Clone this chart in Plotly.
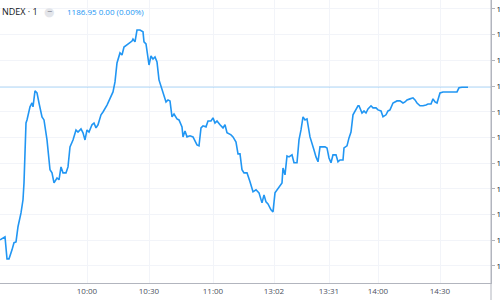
import plotly.graph_objects as go

# bar position (session bar index) and close price
bar = [0, 4, 5, 7, 9, 12, 14, 16, 18, 21, 23, 24, 26, 27, 30, 32, 33, 35, 37, 39,
       42, 44, 47, 50, 52, 54, 57, 59, 61, 63, 66, 68, 70, 73, 76, 78, 81, 83, 85, 87,
       89, 92, 94, 96, 98, 101, 103, 107, 110, 113, 115, 117, 120, 122, 124, 127, 129, 132, 133, 135,
       137, 140, 143, 144, 146, 149, 151, 153, 155, 157, 159, 162, 163, 166, 168, 170, 172, 174, 177, 179,
       182, 183, 185, 187, 190, 193, 197, 199, 201, 203, 206, 208, 211, 213, 215, 217, 220, 223, 225, 227,
       231, 233, 236, 238, 240, 242, 244, 247, 250, 253, 256, 259, 262, 264, 266, 268, 271, 273, 275, 278,
       282, 283, 285, 287, 289, 292, 294, 297, 299, 301, 303, 305, 307, 310, 312, 314, 316, 318, 320, 323,
       325, 327, 329, 331, 333, 336, 338, 340, 343, 344, 347, 349, 351, 353, 356, 358, 359, 362, 364, 366,
       368, 371, 373, 376, 378, 381, 383, 386, 388, 390, 393, 395, 397, 400, 403, 405, 407, 410, 413, 415,
       417, 420, 423, 426, 428, 431, 433, 435, 437, 440, 443, 457, 459, 462, 468]
price = [1181.01, 1181.09, 1181.13, 1180.27, 1180.27, 1180.62, 1180.90, 1180.93, 1181.52, 1182.06,
         1182.57, 1183.23, 1185.56, 1185.68, 1186.19, 1186.34, 1186.19, 1186.81, 1186.73, 1186.34,
         1185.80, 1185.68, 1184.90, 1183.74, 1183.62, 1183.23, 1183.42, 1183.35, 1183.85, 1183.62,
         1183.62, 1183.85, 1184.63, 1184.90, 1185.29, 1185.21, 1185.33, 1185.18, 1184.90, 1185.29,
         1185.21, 1185.49, 1185.56, 1185.37, 1185.49, 1185.88, 1185.99, 1186.26, 1186.54, 1186.77,
         1187.16, 1187.90, 1188.29, 1188.21, 1188.52, 1188.60, 1188.68, 1188.75, 1188.83, 1188.72,
         1189.18, 1189.18, 1189.11, 1188.72, 1188.64, 1187.82, 1188.17, 1188.05, 1188.13, 1187.94,
         1187.24, 1186.89, 1186.81, 1186.38, 1186.46, 1186.42, 1185.80, 1185.91, 1185.72, 1185.68,
         1185.41, 1185.02, 1185.25, 1185.02, 1185.06, 1185.02, 1184.71, 1184.67, 1185.37, 1185.45,
         1185.41, 1185.64, 1185.64, 1185.76, 1185.56, 1185.64, 1185.49, 1185.37, 1185.49, 1185.18,
         1185.10, 1185.02, 1184.82, 1184.36, 1184.36, 1183.74, 1183.62, 1183.62, 1183.27, 1182.88,
         1182.96, 1182.84, 1182.45, 1182.76, 1182.49, 1182.41, 1182.18, 1182.10, 1182.84, 1183.03,
         1183.23, 1183.81, 1183.54, 1184.28, 1184.24, 1184.32, 1184.01, 1184.01, 1184.90, 1185.29,
         1185.80, 1185.68, 1185.72, 1185.02, 1184.71, 1184.51, 1184.24, 1184.05, 1184.63, 1184.63,
         1184.63, 1184.59, 1184.20, 1184.01, 1184.32, 1184.32, 1184.05, 1184.12, 1184.12, 1184.59,
         1184.67, 1184.98, 1185.21, 1185.88, 1186.07, 1186.23, 1186.23, 1185.95, 1186.03, 1185.95,
         1186.11, 1186.23, 1186.15, 1186.15, 1186.07, 1186.03, 1185.80, 1185.88, 1186.03, 1186.07,
         1186.34, 1186.38, 1186.42, 1186.42, 1186.34, 1186.38, 1186.46, 1186.50, 1186.54, 1186.46,
         1186.34, 1186.23, 1186.23, 1186.26, 1186.30, 1186.30, 1186.50, 1186.38, 1186.34, 1186.73,
         1186.77, 1186.77, 1186.93, 1186.95, 1186.95]

tick_bars = [87, 149, 213, 274, 329, 378, 440]
tick_labels = ["10:00", "10:30", "11:00", "13:02", "13:31", "14:00", "14:30"]
price_ticks = [1180, 1181, 1182, 1183, 1184, 1185, 1186, 1187, 1188, 1189, 1190]

title_text = "NDEX · 1"
quote_text = "1186.95 0.00 (0.00%)"

LINE = "#2196f3"
GRID = "#f2f4f9"
AXIS = "#b2b5be"
FONT = "Open Sans"
HEAD_Y = 0.958

fig = go.Figure()
fig.add_trace(go.Scatter(x=bar, y=price, mode="lines",
                         line=dict(color=LINE, width=1.6), hoverinfo="skip"))

last = price[-1]
fig.add_shape(type="line", xref="paper", yref="y", x0=0, x1=1, y0=last, y1=last,
              line=dict(color="rgba(33,150,243,0.22)", width=1.5), layer="above")

# extend right axis separator into the time-axis area
fig.add_shape(type="line", xref="paper", yref="paper", x0=1, x1=1, y0=-0.07, y1=1,
              line=dict(color=AXIS, width=1))

fig.add_annotation(xref="paper", yref="paper", x=0, y=HEAD_Y, xanchor="left", yanchor="middle",
                   text=title_text, showarrow=False,
                   font=dict(family=FONT, size=9, color="#131722"))
fig.add_annotation(xref="paper", yref="paper", x=49 / 491, y=HEAD_Y, xanchor="center", yanchor="middle",
                   text="●", showarrow=False, font=dict(family="DejaVu Sans", size=12, color="#e3e5ea"))
fig.add_annotation(xref="paper", yref="paper", x=49 / 491, y=HEAD_Y, xanchor="center", yanchor="middle",
                   text="−", showarrow=False, font=dict(family=FONT, size=9, color="#787b86"))
fig.add_annotation(xref="paper", yref="paper", x=65 / 491, y=HEAD_Y, xanchor="left", yanchor="middle",
                   text=quote_text, showarrow=False,
                   font=dict(family=FONT, size=8, color=LINE))

fig.update_layout(
    width=501, height=300,
    margin=dict(l=0, r=10, t=0, b=17, autoexpand=False),
    paper_bgcolor="white", plot_bgcolor="white",
    showlegend=False,
    xaxis=dict(range=[0, 491], tickvals=tick_bars, ticktext=tick_labels, automargin=False,
               showgrid=True, gridcolor=GRID, gridwidth=1, zeroline=False,
               showline=True, linecolor=AXIS, linewidth=1, ticks="",
               tickfont=dict(family=FONT, size=8, color="#4c525e")),
    yaxis=dict(range=[1179.33, 1190.35], side="right", tickvals=price_ticks, automargin=False,
               tickformat=".2f",
               showgrid=True, gridcolor=GRID, gridwidth=1, zeroline=False,
               showline=True, linecolor=AXIS, linewidth=1,
               ticks="outside", ticklen=3, tickcolor=AXIS,
               tickfont=dict(family=FONT, size=8, color="#131722")),
)

fig.write_html("out.html")
